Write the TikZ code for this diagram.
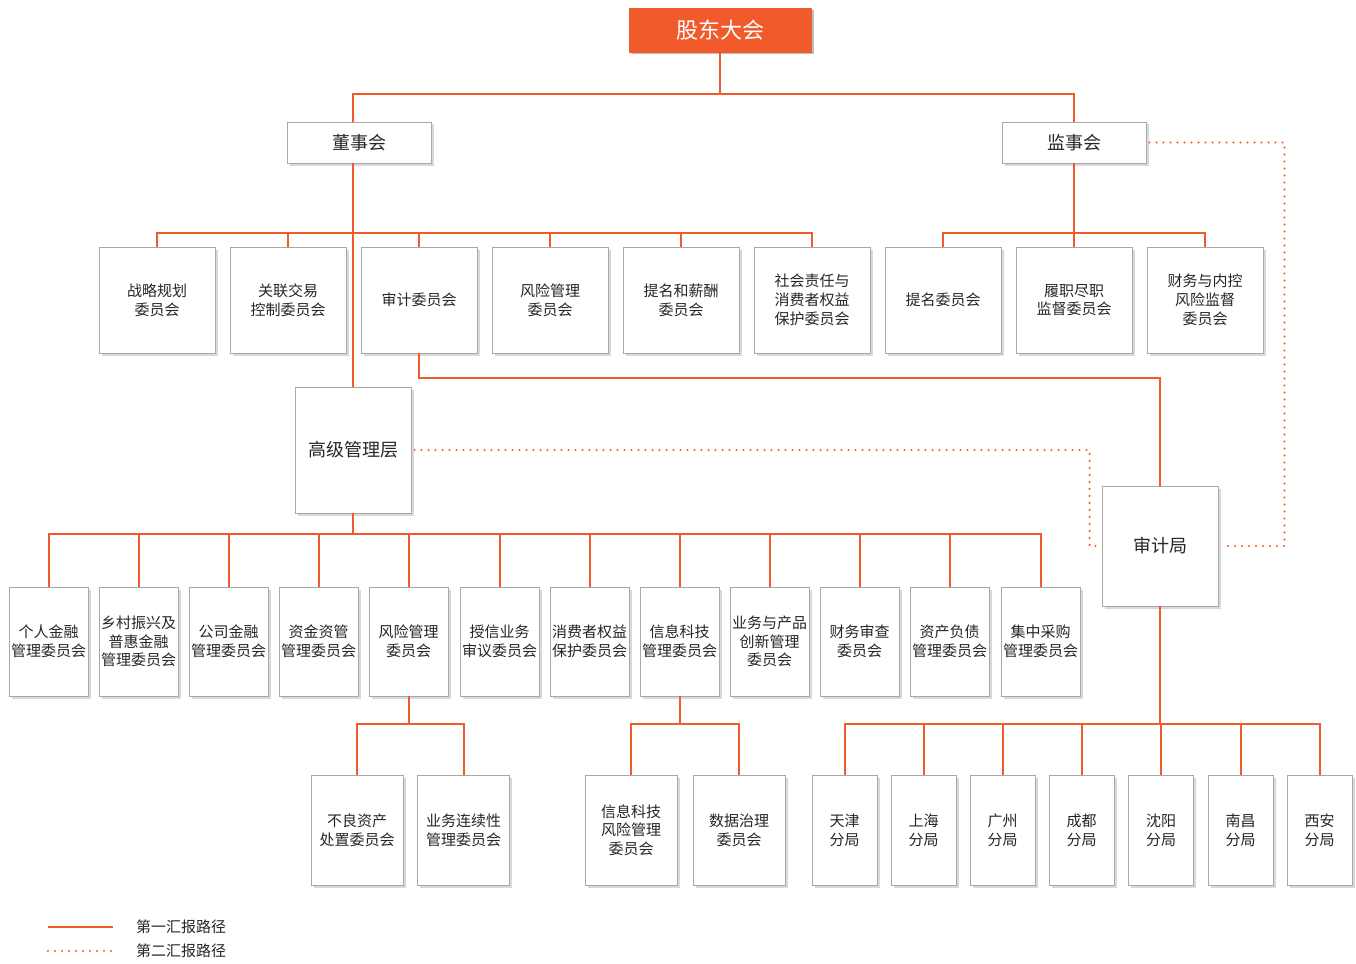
\documentclass[tikz,border=0pt]{standalone}
\usepackage{fontspec}
\setmainfont{Noto Sans CJK SC}
\usetikzlibrary{shadows,calc}
\definecolor{org}{HTML}{F15A2B}
\definecolor{bordergray}{HTML}{A8A8A8}
\definecolor{txt}{HTML}{262626}
\begin{document}
\begin{tikzpicture}[x=1pt,y=-1pt,
  box/.style={draw=bordergray, line width=0.9pt, fill=white,
    drop shadow={shadow xshift=2.5pt, shadow yshift=-2.5pt, fill=black!15, opacity=1},
    inner sep=0pt, align=center, text=txt, font=\fontsize{15}{18.7}\selectfont},
  rowa/.style={box, minimum width=116pt, minimum height=106pt},
  rowc/.style={box, minimum width=79pt, minimum height=109pt},
  rowd/.style={box, minimum width=92pt, minimum height=110pt},
  rowf/.style={box, minimum width=65pt, minimum height=110pt},
  midbox/.style={box, font=\fontsize{18}{22}\selectfont},
  topbox/.style={draw=org, fill=org, line width=0.9pt, text=white,
    drop shadow={shadow xshift=2.5pt, shadow yshift=-2.5pt, fill=black!25, opacity=1},
    minimum width=182pt, minimum height=44pt, inner sep=0pt,
    font=\fontsize{22}{26}\selectfont},
  link/.style={draw=org, line width=2pt},
  dotlink/.style={draw=org, line width=2.4pt, line cap=round, dash pattern=on 0pt off 7pt},
  legtext/.style={anchor=west, text=txt, inner sep=0pt, font=\fontsize{15}{18}\selectfont}
]
\useasboundingbox (0,0) rectangle (1356,963);

% top
\node[topbox] (gd) at (720,30) {股东大会};
\node[midbox, minimum width=144pt, minimum height=41pt] (dsh) at (359,142.5) {董事会};
\node[midbox, minimum width=144pt, minimum height=41pt] (jsh) at (1074,142.5) {监事会};

% row 1
\node[rowa] (c1) at (157,300) {战略规划\\委员会};
\node[rowa] (c2) at (288,300) {关联交易\\控制委员会};
\node[rowa] (c3) at (419,300) {审计委员会};
\node[rowa] (c4) at (550,300) {风险管理\\委员会};
\node[rowa] (c5) at (681,300) {提名和薪酬\\委员会};
\node[rowa] (c6) at (812,300) {社会责任与\\消费者权益\\保护委员会};
\node[rowa] (s1) at (943,300) {提名委员会};
\node[rowa] (s2) at (1074,300) {履职尽职\\监督委员会};
\node[rowa] (s3) at (1205,300) {财务与内控\\风险监督\\委员会};

% senior management and audit bureau
\node[midbox, minimum width=116pt, minimum height=126pt] (gj) at (353,450) {高级管理层};
\node[midbox, minimum width=116pt, minimum height=120pt] (sjj) at (1160,546) {审计局};

% row 3
\node[rowc] (m1) at (48.5,641.5) {个人金融\\管理委员会};
\node[rowc] (m2) at (138.5,641.5) {乡村振兴及\\普惠金融\\管理委员会};
\node[rowc] (m3) at (228.5,641.5) {公司金融\\管理委员会};
\node[rowc] (m4) at (318.5,641.5) {资金资管\\管理委员会};
\node[rowc] (m5) at (408.5,641.5) {风险管理\\委员会};
\node[rowc] (m6) at (499.5,641.5) {授信业务\\审议委员会};
\node[rowc] (m7) at (589.5,641.5) {消费者权益\\保护委员会};
\node[rowc] (m8) at (679.5,641.5) {信息科技\\管理委员会};
\node[rowc] (m9) at (769.5,641.5) {业务与产品\\创新管理\\委员会};
\node[rowc] (m10) at (859.5,641.5) {财务审查\\委员会};
\node[rowc] (m11) at (949.5,641.5) {资产负债\\管理委员会};
\node[rowc] (m12) at (1040.5,641.5) {集中采购\\管理委员会};

% row 4
\node[rowd] (b1) at (357,830) {不良资产\\处置委员会};
\node[rowd] (b2) at (463.5,830) {业务连续性\\管理委员会};
\node[rowd] (b3) at (631,830) {信息科技\\风险管理\\委员会};
\node[rowd] (b4) at (739,830) {数据治理\\委员会};
\node[rowf] (f1) at (844.5,830) {天津\\分局};
\node[rowf] (f2) at (923.5,830) {上海\\分局};
\node[rowf] (f3) at (1002.5,830) {广州\\分局};
\node[rowf] (f4) at (1081.5,830) {成都\\分局};
\node[rowf] (f5) at (1161,830) {沈阳\\分局};
\node[rowf] (f6) at (1240.5,830) {南昌\\分局};
\node[rowf] (f7) at (1319.5,830) {西安\\分局};

% connectors
\coordinate (t) at (720,94);
\draw[link] (gd.south) -- (t);
\draw[link] (t) -| (gj.north |- dsh.north);
\draw[link] (t) -| (jsh.north);
\draw[link] (gj.north |- dsh.south) -- (gj.north);
\coordinate (ba) at (353,233);
\foreach \c in {c1,c2,c3,c4,c5,c6} \draw[link] (ba) -| (\c.north);
\coordinate (bb) at (1074,233);
\draw[link] (jsh.south) -- (bb);
\foreach \c in {s1,s2,s3} \draw[link] (bb) -| (\c.north);
\draw[link] (c3.south) -- ++(0,25) -| (sjj.north);
\coordinate (bc) at (353,534);
\draw[link] (gj.south) -- (bc);
\foreach \c in {m1,m2,m3,m4,m5,m6,m7,m8,m9,m10,m11,m12} \draw[link] (bc) -| (\c.north);
\coordinate (bd) at (408.5,724);
\draw[link] (m5.south) -- (bd);
\draw[link] (bd) -| (b1.north);
\draw[link] (bd) -| (b2.north);
\coordinate (bf) at (679.5,724);
\draw[link] (m8.south) -- (bf);
\draw[link] (bf) -| (b3.north);
\draw[link] (bf) -| (b4.north);
\coordinate (be) at (1160,724);
\draw[link] (sjj.south) -- (be);
\foreach \c in {f1,f2,f3,f4,f5,f6,f7} \draw[link] (be) -| (\c.north);

% secondary reporting
\draw[dotlink] ($(gj.east)+(3,0)$) -| ($(sjj.west)+(-12,0)$) -- ($(sjj.west)+(-3,0)$);
\draw[dotlink] ($(jsh.east)+(3,0)$) -| ($(sjj.east)+(66,0)$) -- ($(sjj.east)+(3,0)$);

% legend
\coordinate (l1a) at (48,927);
\coordinate (l1b) at (113,927);
\coordinate (l2a) at (48,951);
\coordinate (l2b) at (113,951);
\draw[link] (l1a) -- (l1b);
\draw[dotlink] (l2a) -- (l2b);
\node[legtext] (lt1) at (136,927) {第一汇报路径};
\node[legtext] (lt2) at (136,951) {第二汇报路径};
\end{tikzpicture}
\end{document}
